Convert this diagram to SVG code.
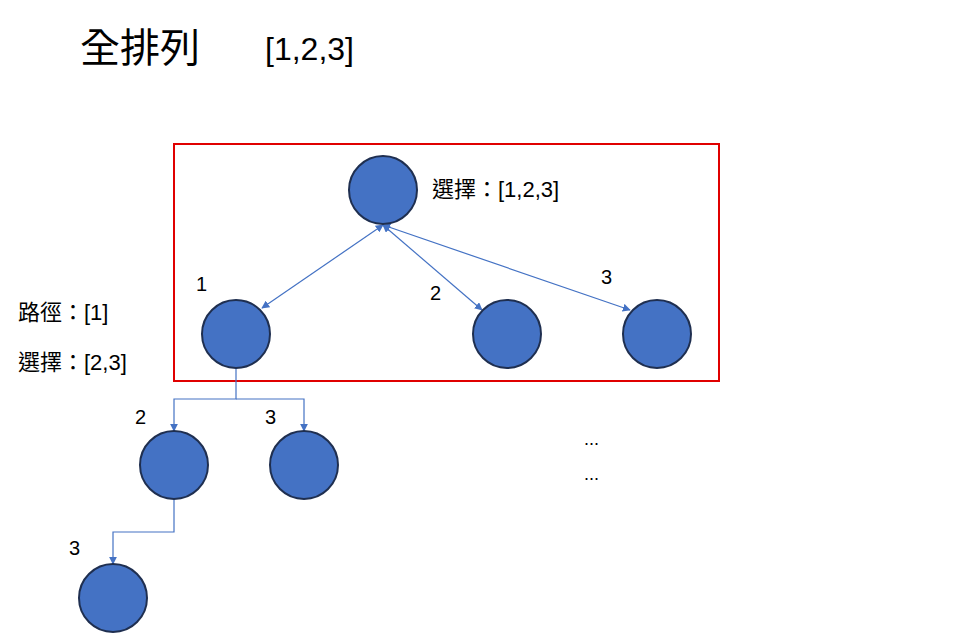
<svg xmlns="http://www.w3.org/2000/svg" width="953" height="633" viewBox="0 0 953 633">
<style>
.n{fill:#4472C4;stroke:#1F2F50;stroke-width:2}
.c{fill:none;stroke:#4472C4;stroke-width:1.2}
.t{font-family:"Liberation Sans","Noto Sans CJK TC",sans-serif;fill:#000}
</style>
<defs>
<marker id="a" viewBox="0 0 10 10" refX="9" refY="5" markerWidth="8" markerHeight="8" orient="auto-start-reverse" markerUnits="userSpaceOnUse"><path d="M0,0L10,5L0,10z" fill="#4472C4"/></marker>
</defs>
<rect width="953" height="633" fill="#fff"/>
<text class="t" x="80" y="62" font-size="40">全排列</text>
<text class="t" x="265" y="60" font-size="32">[1,2,3]</text>
<rect x="174" y="144" width="545" height="237" fill="none" stroke="#E00000" stroke-width="2"/>
<g id="connectors">
<line class="c" x1="383" y1="225" x2="262" y2="308" marker-start="url(#a)" marker-end="url(#a)"/>
<line class="c" x1="383" y1="225" x2="482" y2="310" marker-start="url(#a)" marker-end="url(#a)"/>
<line class="c" x1="383" y1="225" x2="630" y2="310" marker-start="url(#a)" marker-end="url(#a)"/>
<polyline class="c" points="236,368 236,399 174,399 174,431" marker-end="url(#a)"/>
<polyline class="c" points="236,399 304,399 304,431" marker-end="url(#a)"/>
<polyline class="c" points="174,499 174,532 113,532 113,564" marker-end="url(#a)"/>
</g>
<g id="root"><circle class="n" cx="383" cy="190" r="34"/><text class="t" x="432" y="197" font-size="22">選擇：[1,2,3]</text></g>
<g id="n1"><circle class="n" cx="236" cy="334" r="34"/><text class="t" x="196" y="291" font-size="20">1</text></g>
<g id="n2"><circle class="n" cx="507" cy="334" r="34"/><text class="t" x="430" y="300" font-size="20">2</text></g>
<g id="n3"><circle class="n" cx="657" cy="334" r="34"/><text class="t" x="601" y="284" font-size="20">3</text></g>
<g id="info"><text class="t" x="18" y="320" font-size="22">路徑：[1]</text><text class="t" x="18" y="370" font-size="22">選擇：[2,3]</text></g>
<g id="n12"><circle class="n" cx="174" cy="465" r="34"/><text class="t" x="135" y="424" font-size="20">2</text></g>
<g id="n13"><circle class="n" cx="304" cy="465" r="34"/><text class="t" x="265" y="424" font-size="20">3</text></g>
<g id="n123"><circle class="n" cx="113" cy="598" r="34"/><text class="t" x="69" y="555" font-size="20">3</text></g>
<text class="t" x="584" y="445" font-size="18">...</text>
<text class="t" x="584" y="480" font-size="18">...</text>
</svg>
